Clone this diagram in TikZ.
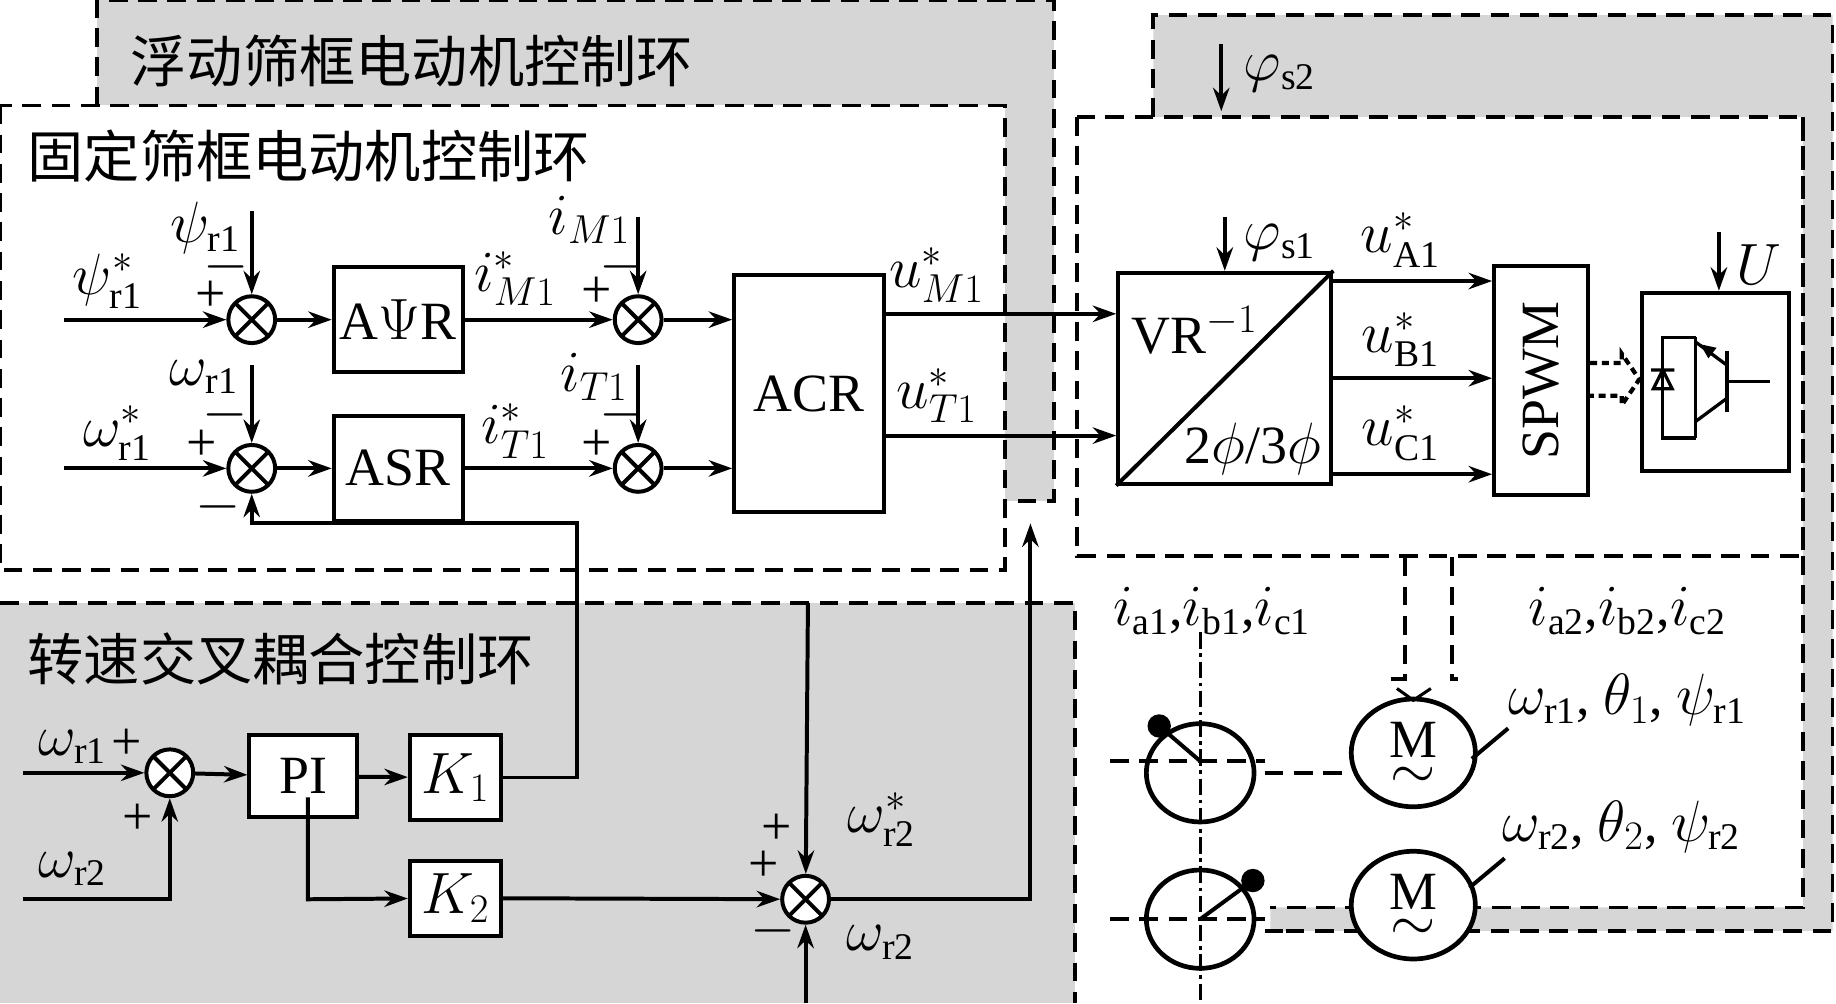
\documentclass[tikz,border=0pt]{standalone}
\usepackage{fontspec}
\setmainfont{Liberation Serif}
\newfontfamily\cjk{Noto Sans CJK SC}
\usetikzlibrary{shapes.misc,shapes.geometric,arrows.meta}
\begin{document}
\begin{tikzpicture}[x=0.5pt,y=-0.5pt,line width=1.7pt,
  >={Stealth[length=10pt,width=7pt]},
  blk/.style={draw,line width=1.7pt,fill=white,inner sep=0pt},
  sum/.style={draw,circle,minimum size=20pt,line width=1.7pt,fill=white,
    path picture={\draw[line width=1.7pt] ([shift={(-7pt,-7pt)}]path picture bounding box.center) -- ([shift={(7pt,7pt)}]path picture bounding box.center)
      ([shift={(-7pt,7pt)}]path picture bounding box.center) -- ([shift={(7pt,-7pt)}]path picture bounding box.center);}},
  lab/.style={font=\fontsize{23}{25}\selectfont,inner sep=0pt},
  tit/.style={font=\cjk\fontsize{24}{26}\selectfont,inner sep=0pt,anchor=west},
  dsh/.style={dashed,dash pattern=on 8pt off 4.5pt,line width=1.6pt},
  gfill/.style={fill=black!16}]
\useasboundingbox (0,0) rectangle (1568,857);
% gray regions
\fill[gfill] (83,0) rectangle (900,428);
\fill[white] (0,90) rectangle (858,487);
\fill[gfill] (985,13) -- (1565,13) -- (1565,795) -- (1085,795) -- (1085,775) -- (1540,775) -- (1540,100) -- (985,100) -- cycle;
\fill[gfill] (0,515) rectangle (918,857);
\draw[dsh] (83,90) -- (83,0) -- (900,0) -- (900,428) -- (858,428);
\draw[dsh] (0,90) rectangle (858,487);
\draw[dsh] (985,100) -- (985,13) -- (1565,13) -- (1565,795) -- (1085,795);
\draw[dsh] (1540,100) -- (1540,775) -- (1085,775);
\draw[dsh] (920,100) rectangle (1540,475);
\draw[dsh] (0,515) -- (918,515) -- (918,857);
% titles
\node[tit] (t1) at (110,52) {浮动筛框电动机控制环};
\node[tit] (t2) at (22,133) {固定筛框电动机控制环};
\node[tit] (t3) at (22,563) {转速交叉耦合控制环};
% upper blocks
\node[sum] (s1) at (215,273) {};
\node[sum] (s2) at (215,400) {};
\node[sum] (s3) at (545,273) {};
\node[sum] (s4) at (545,400) {};
\node[blk,minimum width=55pt,minimum height=45pt,lab] (apr) at (340,273) {A$\Psi$R};
\node[blk,minimum width=55pt,minimum height=45pt,lab] (asr) at (340,400) {ASR};
\node[blk,minimum width=64pt,minimum height=101pt,lab] (acr) at (691,336) {ACR};
\node[blk,minimum width=91pt,minimum height=90pt] (vr) at (1046,323) {};
\draw (vr.south west) -- (vr.north east);
\node[lab,anchor=west] (vrt) at (965,282) {VR$^{-1}$};
\node[lab,anchor=east] (vrb) at (1130,383) {2$\phi$/3$\phi$};
\node[blk,minimum width=40pt,minimum height=97.5pt] (spwm) at (1316,325) {};
\node[lab,rotate=90] (spt) at (1316,325) {SPWM};
\node[blk,minimum width=63pt,minimum height=76pt] (inv) at (1465,326) {};
% IGBT symbol
\begin{scope}[line width=1.4pt]
\draw (1448,288) -- (1448,374);
\draw (1448,288) -- (1420,288) -- (1420,374) -- (1448,374);
\draw (1475,300) -- (1475,352) (1475,326) -- (1512,326);
\draw (1475,312) -- (1448,292) (1475,340) -- (1448,360);
\draw (1410,316) -- (1430,316) (1420,316) -- (1412,332) -- (1428,332) -- cycle;
\end{scope}
\fill (1452,294) -- (1466,297) -- (1459,306) -- cycle;
% upper connections
\coordinate (in1) at (55,273); \coordinate (in2) at (55,400);
\draw[->] (in1) -- (s1);
\draw[->] (in2) -- (s2);
\draw[->] (s1) -- (apr);
\draw[->] (s2) -- (asr);
\draw[->] (apr) -- (s3);
\draw[->] (asr) -- (s4);
\draw[->] (s3) -- (s3 -| acr.west);
\draw[->] (s4) -- (s4 -| acr.west);
\coordinate (p1) at (215,180); \coordinate (p2) at (215,312);
\coordinate (p3) at (545,185); \coordinate (p4) at (545,312);
\draw[->] (p1) -- (s1); \draw[->] (p2) -- (s2);
\draw[->] (p3) -- (s3); \draw[->] (p4) -- (s4);
\coordinate (y1) at (0,268); \coordinate (y2) at (0,372);
\draw[->] (acr.east |- y1) -- (vr.west |- y1);
\draw[->] (acr.east |- y2) -- (vr.west |- y2);
\coordinate (ps1) at (1046,185); \draw[->] (ps1) -- (vr.north);
\coordinate (ps2) at (1043,38); \coordinate (ps2e) at (1043,95); \draw[->] (ps2) -- (ps2e);
\coordinate (ya) at (0,240); \coordinate (yb) at (0,323); \coordinate (yc) at (0,405);
\draw[->] (vr.east |- ya) -- (spwm.west |- ya);
\draw[->] (vr.east |- yb) -- (spwm.west |- yb);
\draw[->] (vr.east |- yc) -- (spwm.west |- yc);
\coordinate (pu) at (1468,198); \draw[->] (pu) -- (pu |- inv.north);
% dashed hollow arrow
\draw[densely dashed,line width=1.8pt] (1358,310) -- (1385,310) -- (1385,302) -- (1400,324) -- (1385,346) -- (1385,338) -- (1358,338);
% upper labels
\node[lab] (l1) at (92,240) {$\psi^*_{\mathrm{r1}}$};
\node[lab,anchor=east] (l2) at (207,195) {$\psi_{\mathrm{r1}}$};
\node[lab] (l3) at (180,253) {+};
\node[lab] (l4) at (193,228) {$-$};
\node[lab,anchor=east] (l5) at (205,322) {$\omega_{\mathrm{r1}}$};
\node[lab] (l6) at (192,354) {$-$};
\node[lab] (l7) at (100,370) {$\omega^*_{\mathrm{r1}}$};
\node[lab] (l8) at (172,380) {+};
\node[lab] (l9) at (186,433) {$-$};
\node[lab] (l10) at (440,238) {$i^*_{M1}$};
\node[lab,anchor=east] (l11) at (540,188) {$i_{M1}$};
\node[lab] (l12) at (510,250) {+};
\node[lab] (l13) at (531,228) {$-$};
\node[lab] (l14) at (440,368) {$i^*_{T1}$};
\node[lab,anchor=east] (l15) at (538,322) {$i_{T1}$};
\node[lab] (l16) at (510,380) {+};
\node[lab] (l17) at (531,354) {$-$};
\node[lab] (l18) at (800,235) {$u^*_{M1}$};
\node[lab] (l19) at (800,338) {$u^*_{T1}$};
\node[lab] (l20) at (1093,207) {$\varphi_{\mathrm{s1}}$};
\node[lab] (l21) at (1093,63) {$\varphi_{\mathrm{s2}}$};
\node[lab] (l22) at (1196,205) {$u^*_{\mathrm{A1}}$};
\node[lab] (l23) at (1196,290) {$u^*_{\mathrm{B1}}$};
\node[lab] (l24) at (1196,370) {$u^*_{\mathrm{C1}}$};
\node[lab] (l25) at (1502,226) {$U$};
% bottom blocks
\node[sum] (s5) at (145,660) {};
\node[sum] (s6) at (688,768) {};
\node[blk,minimum width=46pt,minimum height=35pt,lab] (pi) at (259,663) {PI};
\node[blk,minimum width=39pt,minimum height=36pt,lab] (k1) at (389,664) {$K_1$};
\node[blk,minimum width=39pt,minimum height=32pt,lab] (k2) at (389,767) {$K_2$};
\coordinate (b1) at (20,660); \coordinate (b2) at (20,768);
\draw[->] (b1) -- (s5);
\draw[->] (b2) -- (145,768) -- (s5);
\draw[->] (s5) -- (pi);
\draw[->] (pi) -- (k1);
\draw[->] (263,681) -- (263,768) -- (k2);
\draw[->] (k2) -- (s6);
\draw[->] (k1.east) -- (493,664) -- (493,447) -- (215,447) -- (s2);
\coordinate (b3) at (690,515); \draw[->] (b3) -- (s6);
\coordinate (b4) at (688,857); \draw[->] (b4) -- (s6);
\draw[->] (s6) -- (880,768) -- (880,447);
\node[lab] (m1) at (62,638) {$\omega_{\mathrm{r1}}$};
\node[lab] (m2) at (108,636) {+};
\node[lab] (m3) at (62,742) {$\omega_{\mathrm{r2}}$};
\node[lab] (m4) at (118,700) {+};
\node[lab] (m5) at (663,708) {+};
\node[lab] (m6) at (652,740) {+};
\node[lab] (m7) at (753,700) {$\omega^*_{\mathrm{r2}}$};
\node[lab] (m8) at (660,795) {$-$};
\node[lab] (m9) at (752,805) {$\omega_{\mathrm{r2}}$};
% motors
\draw[dash pattern=on 7pt off 2pt on 1.5pt off 2pt,line width=1.3pt] (1025,540) -- (1025,857);
\draw[dsh] (948,650) -- (1080,650); \draw[dsh] (1080,660) -- (1155,660);
\draw[dsh] (948,785) -- (1080,785); \draw[dsh] (1080,795) -- (1100,795);
\node[draw,ellipse,minimum width=46pt,minimum height=42pt,line width=2pt] (r1) at (1025,660) {};
\node[draw,ellipse,minimum width=46pt,minimum height=42pt,line width=2pt] (r2) at (1025,785) {};
\fill (990,620) circle (5pt); \draw (990,620) -- (1025,650);
\fill (1070,752) circle (5pt); \draw (1070,752) -- (1025,785);
\node[draw,ellipse,fill=white,minimum width=53pt,minimum height=46pt,line width=2pt] (mo1) at (1207,643) {};
\node[draw,ellipse,fill=white,minimum width=53pt,minimum height=46pt,line width=2pt] (mo2) at (1207,773) {};
\node[lab] (mm1) at (1207,632) {M}; \node[lab] (mw1) at (1207,664) {$\sim$};
\node[lab] (mm2) at (1207,762) {M}; \node[lab] (mw2) at (1207,794) {$\sim$};
\draw[dsh] (1200,476) -- (1200,580) -- (1183,580) (1240,476) -- (1240,580) -- (1245,580);
\draw[line width=1.3pt] (1193,588) -- (1207,598) -- (1222,588);
\draw (1257,648) -- (1288,622);
\draw (1255,758) -- (1285,733);
\node[lab] (n1) at (1035,522) {$i_{\mathrm{a1}}$,$i_{\mathrm{b1}}$,$i_{\mathrm{c1}}$};
\node[lab] (n2) at (1390,522) {$i_{\mathrm{a2}}$,$i_{\mathrm{b2}}$,$i_{\mathrm{c2}}$};
\node[lab] (n3) at (1390,598) {$\omega_{\mathrm{r1}}$, $\theta_1$, $\psi_{\mathrm{r1}}$};
\node[lab] (n4) at (1385,706) {$\omega_{\mathrm{r2}}$, $\theta_2$, $\psi_{\mathrm{r2}}$};
\end{tikzpicture}
\end{document}
